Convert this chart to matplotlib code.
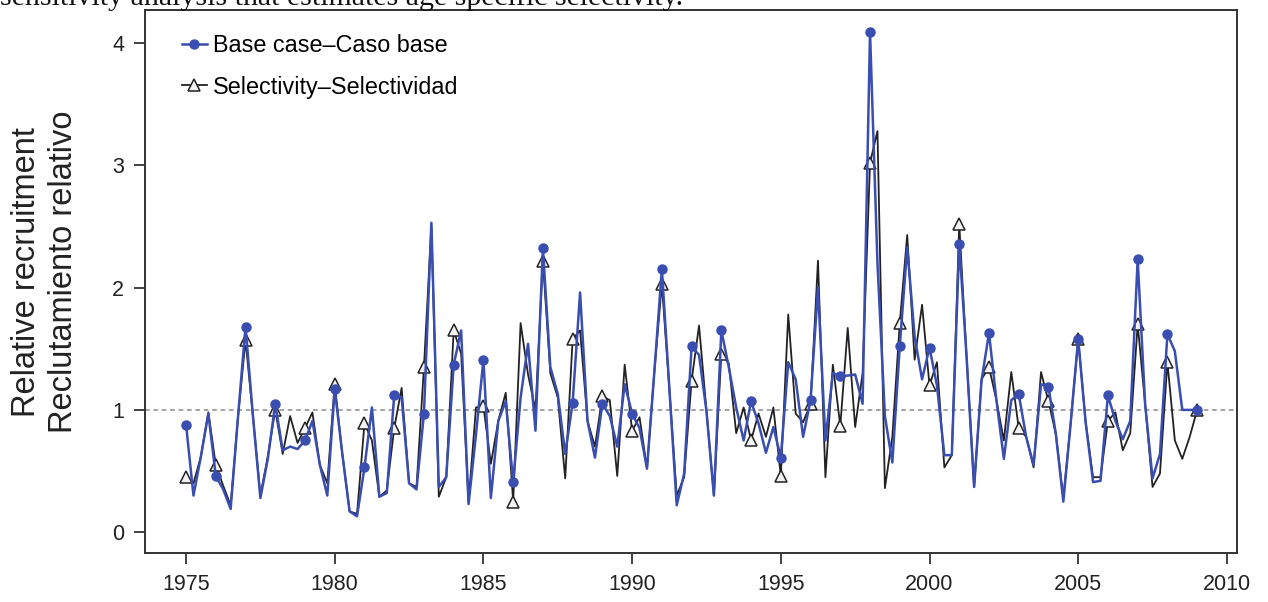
import numpy as np
import matplotlib
matplotlib.use("Agg")
import matplotlib.pyplot as plt

# Quarterly relative recruitment, 1975.00 ... 2009.00
start_year = 1975
base_case = [
    0.88, 0.30, 0.62, 0.97,   # 1975
    0.46, 0.35, 0.19, 0.95,   # 1976
    1.68, 0.95, 0.28, 0.60,   # 1977
    1.05, 0.67, 0.70, 0.68,   # 1978
    0.75, 0.91, 0.55, 0.30,   # 1979
    1.17, 0.65, 0.17, 0.13,   # 1980
    0.53, 1.02, 0.29, 0.32,   # 1981
    1.12, 1.10, 0.40, 0.35,   # 1982
    0.97, 2.53, 0.37, 0.45,   # 1983
    1.37, 1.65, 0.23, 0.80,   # 1984
    1.41, 0.28, 0.91, 1.07,   # 1985
    0.41, 1.10, 1.54, 0.83,   # 1986
    2.32, 1.35, 1.13, 0.64,   # 1987
    1.06, 1.96, 0.91, 0.61,   # 1988
    1.05, 0.95, 0.70, 1.21,   # 1989
    0.97, 0.85, 0.52, 1.32,   # 1990
    2.15, 1.18, 0.22, 0.48,   # 1991
    1.52, 1.45, 0.99, 0.30,   # 1992
    1.65, 1.35, 1.02, 0.75,   # 1993
    1.07, 0.89, 0.65, 0.86,   # 1994
    0.61, 1.39, 1.25, 0.78,   # 1995
    1.08, 2.00, 0.75, 1.30,   # 1996
    1.28, 1.28, 1.29, 1.05,   # 1997
    4.09, 2.20, 0.95, 0.57,   # 1998
    1.52, 2.33, 1.60, 1.25,   # 1999
    1.51, 1.20, 0.63, 0.63,   # 2000
    2.36, 1.42, 0.37, 1.24,   # 2001
    1.63, 1.08, 0.60, 1.08,   # 2002
    1.13, 0.78, 0.55, 1.21,   # 2003
    1.19, 0.80, 0.25, 0.90,   # 2004
    1.58, 0.90, 0.41, 0.42,   # 2005
    1.12, 0.91, 0.76, 0.91,   # 2006
    2.23, 1.05, 0.44, 0.64,   # 2007
    1.62, 1.48, 1.00, 1.00,   # 2008
    1.00,                     # 2009
]
selectivity = [
    0.45, 0.40, 0.62, 0.98,
    0.55, 0.38, 0.22, 0.95,
    1.57, 0.95, 0.30, 0.62,
    1.00, 0.64, 0.95, 0.73,
    0.85, 0.98, 0.55, 0.40,
    1.21, 0.65, 0.17, 0.15,
    0.89, 0.75, 0.29, 0.34,
    0.85, 1.18, 0.40, 0.37,
    1.35, 2.50, 0.29, 0.45,
    1.65, 1.46, 0.25, 1.02,
    1.03, 0.56, 0.91, 1.14,
    0.25, 1.71, 1.29, 1.00,
    2.22, 1.30, 1.10, 0.44,
    1.58, 1.65, 0.91, 0.70,
    1.11, 1.08, 0.46, 1.37,
    0.83, 0.94, 0.52, 1.32,
    2.03, 1.18, 0.30, 0.45,
    1.24, 1.69, 0.99, 0.30,
    1.46, 1.38, 0.81, 1.02,
    0.75, 0.97, 0.78, 1.02,
    0.46, 1.78, 0.97, 0.90,
    1.05, 2.22, 0.45, 1.37,
    0.87, 1.67, 0.86, 1.30,
    3.02, 3.28, 0.36, 0.78,
    1.71, 2.43, 1.41, 1.86,
    1.20, 1.39, 0.53, 0.63,
    2.52, 1.42, 0.37, 1.25,
    1.35, 1.08, 0.75, 1.31,
    0.85, 0.78, 0.53, 1.31,
    1.07, 0.80, 0.28, 0.90,
    1.58, 0.90, 0.45, 0.45,
    0.91, 0.98, 0.67, 0.81,
    1.70, 1.05, 0.37, 0.48,
    1.39, 0.75, 0.60, 0.78,
    1.00,
]
x_ticks = [1975, 1980, 1985, 1990, 1995, 2000, 2005, 2010]
y_ticks = [0, 1, 2, 3, 4]
label_base = "Base case\u2013Caso base"
label_sel = "Selectivity\u2013Selectividad"
ylabel_text = "Relative recruitment\nReclutamiento relativo"
caption_text = "sensitivity analysis that estimates age specific selectivity."

years = start_year + np.arange(len(base_case)) / 4.0

plt.rcParams['font.family'] = ['Liberation Sans', 'DejaVu Sans']

fig = plt.figure(figsize=(12.68, 6.02), dpi=100)
ax = fig.add_axes([145/1268, 1 - 553/602, (1237 - 145)/1268, (553 - 10)/602])

blue = '#3a4db0'
ax.axhline(1.0, color='#8a8a8a', lw=1.1, ls=(0, (3, 2.5)), zorder=1)
ax.plot(years, selectivity, color='#222222', lw=1.3, marker='^', markevery=4,
        markersize=8, markerfacecolor='#f2f2f2', markeredgecolor='#222222',
        markeredgewidth=1.1, label=label_sel, zorder=2)
ax.plot(years, base_case, color=blue, lw=1.8, marker='o', markevery=4,
        markersize=6.5, markerfacecolor=blue, markeredgecolor=blue,
        label=label_base, zorder=3)

ax.set_xlim(1973.62, 2010.34)
ax.set_ylim(-0.17, 4.27)
ax.set_xticks(x_ticks)
ax.set_yticks(y_ticks)
ax.tick_params(direction='out', length=8, width=1.3, colors='#333333',
               labelsize=15.5, labelcolor='#222222', pad=7)
for s in ax.spines.values():
    s.set_color('#333333')
    s.set_linewidth(1.4)

handles, labels = ax.get_legend_handles_labels()
leg = ax.legend(handles[::-1], labels[::-1], loc='upper left', frameon=False,
                fontsize=16.8, handlelength=1.1, handletextpad=0.25,
                labelspacing=0.8, borderaxespad=0.0,
                bbox_to_anchor=(0.025, 0.973))

fig.text(45/1268, 1 - 272/602, ylabel_text, rotation=90, ha='center',
         va='center', fontsize=23.5, multialignment='center', color='#222222',
         linespacing=1.25)

fig.text(0/1268, 1 - 5/602, caption_text, family='Liberation Serif',
         fontsize=21.5, ha='left', va='baseline', color='#111111')

fig.savefig('out.png', dpi=100)
